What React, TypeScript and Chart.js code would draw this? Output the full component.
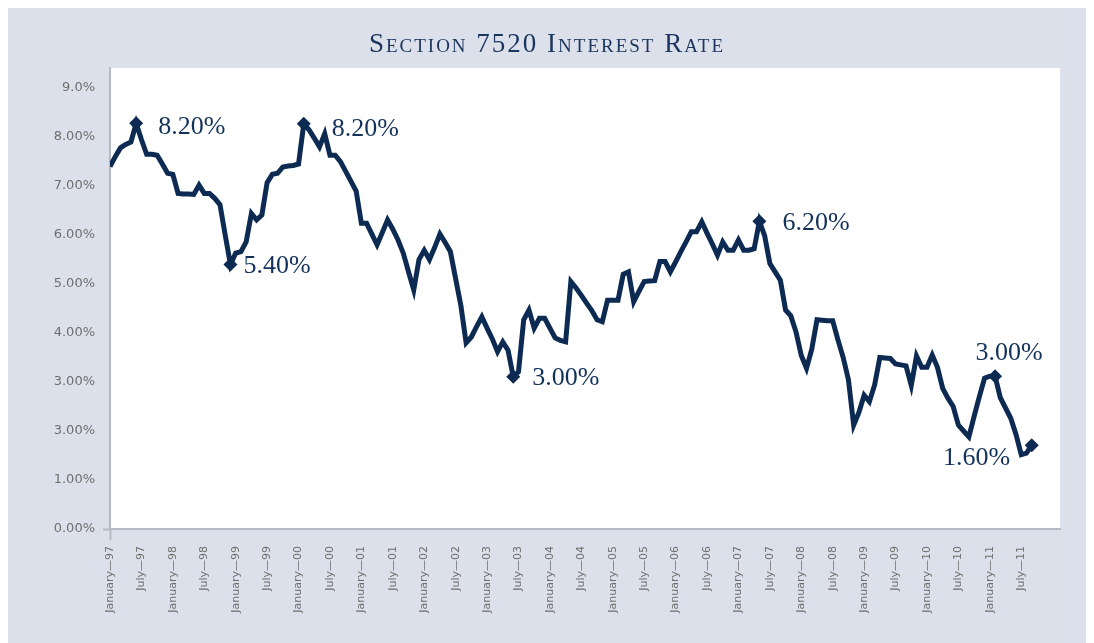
import React, { useEffect, useRef } from "react";
import { Chart, registerables } from "chart.js";

Chart.register(...registerables);

const titleText = "Section 7520 Interest Rate";

const xTickLabels = [
  "January—97", "July—97", "January—98", "July—98", "January—99", "July—99",
  "January—00", "July—00", "January—01", "July—01", "January—02", "July—02",
  "January—03", "July—03", "January—04", "July—04", "January—05", "July—05",
  "January—06", "July—06", "January—07", "July—07", "January—08", "July—08",
  "January—09", "July—09", "January—10", "July—10", "January—11", "July—11",
];

const yTickLabels = ["0.00%", "1.00%", "3.00%", "3.00%", "4.00%", "5.00%", "6.00%", "7.00%", "8.00%", "9.0%"];

// monthly rate, Jan 1997 onward (percent)
const rateValues = [
  7.40, 7.60, 7.78, 7.85, 7.90, 8.28, 7.95, 7.65, 7.65, 7.63, 7.45, 7.26,
  7.24, 6.85, 6.84, 6.84, 6.83, 7.02, 6.85, 6.85, 6.75, 6.62, 6.00, 5.40,
  5.63, 5.66, 5.86, 6.44, 6.31, 6.41, 7.07, 7.24, 7.26, 7.39, 7.41, 7.42,
  7.45, 8.27, 8.15, 7.98, 7.80, 8.07, 7.63, 7.63, 7.50, 7.30, 7.10, 6.90,
  6.24, 6.24, 6.02, 5.80, 6.05, 6.31, 6.12, 5.90, 5.63, 5.25, 4.88, 5.50,
  5.69, 5.50, 5.75, 6.02, 5.85, 5.66, 5.11, 4.56, 3.80, 3.92, 4.13, 4.33,
  4.10, 3.88, 3.62, 3.82, 3.65, 3.11, 3.21, 4.27, 4.47, 4.10, 4.30, 4.30,
  4.10, 3.90, 3.85, 3.82, 5.05, 4.92, 4.77, 4.61, 4.46, 4.27, 4.23, 4.67,
  4.67, 4.67, 5.20, 5.25, 4.64, 4.85, 5.05, 5.06, 5.07, 5.46, 5.46, 5.25,
  5.45, 5.66, 5.86, 6.07, 6.07, 6.27, 6.04, 5.82, 5.59, 5.86, 5.69, 5.69,
  5.90, 5.69, 5.69, 5.72, 6.28, 5.99, 5.42, 5.25, 5.08, 4.47, 4.35, 4.02,
  3.54, 3.28, 3.67, 4.27, 4.26, 4.25, 4.25, 3.86, 3.50, 3.05, 2.12, 2.38,
  2.73, 2.60, 2.94, 3.50, 3.49, 3.48, 3.37, 3.35, 3.33, 2.93, 3.53, 3.30,
  3.30, 3.55, 3.30, 2.87, 2.67, 2.50, 2.12, 2.00, 1.88, 2.30, 2.70, 3.08,
  3.12, 3.12, 2.68, 2.47, 2.26, 1.93, 1.52, 1.55, 1.71,
];

const markerIndices = [5, 23, 37, 77, 124, 169, 176];

const annotationIndices = [5, 37, 23, 77, 124, 169, 174];
const annotationTexts = ["8.20%", "8.20%", "5.40%", "3.00%", "6.20%", "3.00%", "1.60%"];
// placement styles for the annotation texts (offset from the point, alignment)
const annotationPlacement = [
  { dx: 22, dy: 4, align: "left" },
  { dx: 28, dy: 5, align: "left" },
  { dx: 13, dy: 2, align: "left" },
  { dx: 19, dy: 2, align: "left" },
  { dx: 23, dy: 2, align: "left" },
  { dx: 14, dy: -23, align: "center" },
  { dx: -11, dy: 4, align: "right" },
];

const NAVY = "#0d2b52";
const AXIS_GREY = "#b4bbc6";
const TICK_TEXT = "#6e6e6e";

export default function App() {
  const canvasRef = useRef<HTMLCanvasElement | null>(null);

  useEffect(() => {
    const canvas = canvasRef.current;
    if (!canvas) return;

    const points = rateValues.map((v, i) => ({ x: i, y: v }));

    const plotBg = {
      id: "plotBg",
      beforeDraw(chart: any) {
        const { ctx, chartArea } = chart;
        ctx.save();
        ctx.fillStyle = "#ffffff";
        ctx.fillRect(chartArea.left, chartArea.top, chartArea.right - chartArea.left, chartArea.bottom - chartArea.top);
        ctx.restore();
      },
    };

    const annotations = {
      id: "annotations",
      afterDatasetsDraw(chart: any) {
        const { ctx, scales } = chart;
        ctx.save();
        ctx.fillStyle = "#13325b";
        ctx.font = "26px 'Liberation Serif', serif";
        ctx.textBaseline = "middle";
        annotationIndices.forEach((idx, k) => {
          const px = scales.x.getPixelForValue(idx);
          const py = scales.y.getPixelForValue(rateValues[idx]);
          const p = annotationPlacement[k];
          ctx.textAlign = p.align as CanvasTextAlign;
          ctx.fillText(annotationTexts[k], px + p.dx, py + p.dy);
        });
        ctx.restore();
      },
    };

    const chart = new Chart(canvas, {
      type: "line",
      data: {
        datasets: [
          {
            data: points,
            borderColor: NAVY,
            backgroundColor: NAVY,
            borderWidth: 5,
            tension: 0,
            fill: false,
            pointStyle: "rectRot",
            pointRadius: (c: any) => (markerIndices.includes(c.dataIndex) ? 7 : 0),
            pointBorderWidth: 0,
            pointBackgroundColor: NAVY,
            pointBorderColor: NAVY,
          },
        ],
      },
      options: {
        animation: false,
        responsive: false,
        maintainAspectRatio: false,
        layout: { padding: { left: 0, right: 26, top: 60, bottom: 14 } },
        plugins: {
          legend: { display: false },
          tooltip: { enabled: false },
          title: { display: false },
        },
        scales: {
          x: {
            type: "linear",
            min: 0,
            max: 181.4,
            afterFit: (s: any) => {
              s.height = 100;
            },
            border: { display: true, color: AXIS_GREY, width: 2 },
            grid: {
              drawOnChartArea: false,
              drawTicks: true,
              tickLength: 11,
              tickWidth: 2,
              tickColor: (c: any) => (c.index === 0 ? AXIS_GREY : "rgba(0,0,0,0)"),
            },
            ticks: {
              stepSize: 6,
              autoSkip: false,
              includeBounds: false,
              maxRotation: 90,
              minRotation: 90,
              padding: 6,
              color: TICK_TEXT,
              font: { family: "'DejaVu Sans', sans-serif", size: 11 },
              callback: (v: any) => xTickLabels[Math.round(Number(v) / 6)] ?? "",
            },
          },
          y: {
            type: "linear",
            min: 0,
            max: 9.41,
            afterFit: (s: any) => {
              s.width = 102;
            },
            border: { display: true, color: AXIS_GREY, width: 2 },
            grid: {
              drawOnChartArea: false,
              drawTicks: true,
              tickLength: 7,
              tickWidth: 2,
              tickColor: (c: any) => (c.index === 0 ? AXIS_GREY : "rgba(0,0,0,0)"),
            },
            ticks: {
              stepSize: 1,
              includeBounds: false,
              padding: 8,
              color: TICK_TEXT,
              font: { family: "'DejaVu Sans', sans-serif", size: 13 },
              callback: (v: any) => yTickLabels[Math.round(Number(v))] ?? "",
            },
          },
        },
      },
      plugins: [plotBg, annotations],
    } as any);

    return () => {
      chart.destroy();
    };
  }, []);

  return (
    <div style={{ position: "relative", width: 1078, height: 640, background: "#dce0ea" }}>
      <div
        style={{
          position: "absolute",
          top: 20,
          left: 0,
          width: 1078,
          textAlign: "center",
          fontFamily: "'Liberation Serif', serif",
          fontVariant: "small-caps",
          fontSize: 27,
          lineHeight: "30px",
          letterSpacing: 2,
          color: "#1b355e",
        }}
      >
        {titleText}
      </div>
      <canvas ref={canvasRef} width={1078} height={635} style={{ display: "block" }} />
    </div>
  );
}
